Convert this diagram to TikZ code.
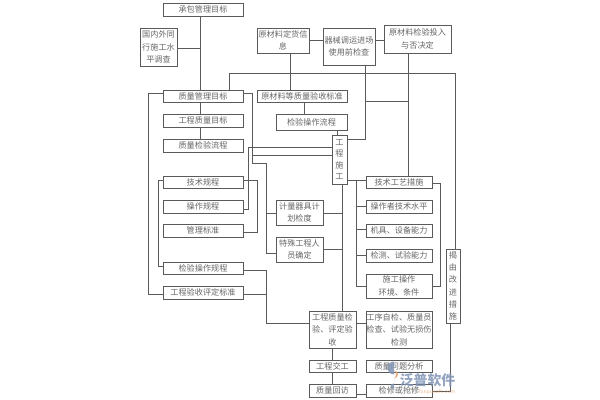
\documentclass[tikz,border=0pt]{standalone}
\usepackage{fontspec}
\newfontfamily\cjk{Noto Sans CJK SC}
\definecolor{ln}{HTML}{5A5A5A}
\definecolor{tx}{HTML}{666666}
\definecolor{wmblue}{HTML}{8093B5}
\definecolor{wmorange}{HTML}{E8A070}
\tikzset{
 x=0.75pt,y=-0.75pt,
 bx/.style={draw=ln,line width=0.75pt,fill=white,text=tx,inner sep=0pt,align=center,font=\cjk\fontsize{6.1}{9.4}\selectfont},
 lk/.style={draw=ln,line width=0.7pt},
 tall/.style={font=\cjk\fontsize{6.1}{8.6}\selectfont},
 taller/.style={font=\cjk\fontsize{6.1}{9.2}\selectfont},
}
\newcommand{\bxat}[7][]{\node[bx,minimum width=(#5-#3)*0.75pt,minimum height=(#6-#4)*0.75pt,text width=(#5-#3)*0.75pt,#1] (#2) at ({(#3+#5)/2},{(#4+#6)/2}) {#7};}
\begin{document}
\begin{tikzpicture}
\useasboundingbox (0,0) rectangle (600,400);
% boxes
\bxat{n1}{163}{3}{243}{16}{承包管理目标}
\bxat{n2}{140}{28}{177}{66}{国内外同\\行施工水\\平调查}
\bxat{n3}{257}{28}{309}{53}{原材料定货信\\息}
\bxat{n4}{323}{28}{375}{65}{器械调运进场\\使用前检查}
\bxat{n5}{384}{25}{451}{53}{原材料检验投入\\与否决定}
\bxat{n6}{163}{90}{243}{102}{质量管理目标}
\bxat{n7}{257}{90}{347}{102}{原材料等质量验收标准}
\bxat{n8}{163}{114}{243}{127}{工程质量目标}
\bxat{n9}{276}{114}{347}{130}{检验操作流程}
\bxat{n10}{163}{139}{243}{152}{质量检验流程}
\bxat{n11}{163}{176}{243}{188}{技术规程}
\bxat{n12}{163}{200}{243}{213}{操作规程}
\bxat{n13}{163}{224}{243}{237}{管理标准}
\bxat{n14}{163}{262}{243}{274}{检验操作规程}
\bxat{n15}{163}{286}{243}{299}{工程验收评定标准}
\bxat{n16}{276}{200}{323}{225}{计量器具计\\划检度}
\bxat{n17}{276}{237}{323}{262}{特殊工程人\\员确定}
\bxat[tall]{n18}{332}{135}{347}{184}{工\\程\\施\\工}
\bxat{n19}{366}{176}{432}{188}{技术工艺措施}
\bxat{n20}{366}{200}{432}{213}{操作者技术水平}
\bxat{n21}{366}{224}{432}{237}{机具、设备能力}
\bxat{n22}{366}{249}{432}{262}{检测、试验能力}
\bxat{n23}{366}{274}{432}{298}{施工操作\\环境、条件}
\bxat[taller]{n24}{446}{249}{460}{323}{揭\\由\\改\\进\\措\\施}
\bxat{n25}{309}{311}{356}{348}{工程质量检\\验、评定验\\收}
\bxat{n26}{366}{311}{432}{348}{工序自检、质量员\\检查、试验无损伤\\检测}
\bxat{n27}{309}{360}{356}{372}{工程交工}
\bxat{n28}{366}{360}{432}{372}{质量问题分析}
\bxat{n29}{309}{384}{356}{397}{质量回访}
\bxat{n30}{366}{384}{432}{397}{检修或抢修}
% junctions
\coordinate (a1) at (229,73);
\coordinate (a2) at (455.5,73);
\coordinate (b1) at (148,93);
\coordinate (b2) at (148,294);
\coordinate (c1) at (252.5,93);
\coordinate (c2) at (252.5,163);
\coordinate (c3) at (266.7,163);
\coordinate (c4) at (266.7,253);
\coordinate (c5) at (252.5,155);
\coordinate (d1) at (248,209);
\coordinate (d2) at (248,147);
\coordinate (e1) at (257.7,180);
\coordinate (e2) at (257.7,232.5);
\coordinate (f1) at (158,180);
\coordinate (f2) at (158,266);
\coordinate (g1) at (266.7,270);
\coordinate (g2) at (266.7,323);
\coordinate (g3) at (266.7,294);
\coordinate (g4) at (266.7,213);
\coordinate (h1) at (365.7,139);
\coordinate (h2) at (365.7,101.7);
\coordinate (h3) at (408,101.7);
\coordinate (i1) at (200.7,48);
\coordinate (j1) at (356.7,180);
\coordinate (j2) at (356.7,286);
\coordinate (j3) at (356.7,206);
\coordinate (j4) at (356.7,229);
\coordinate (j5) at (356.7,255);
\coordinate (k1) at (440.7,183);
\coordinate (k2) at (440.7,286);
\coordinate (l1) at (342,213);
\coordinate (l2) at (342,249);
\coordinate (m1) at (450,391);
% connectors
\draw[lk] (n1.south -| i1) -- (n6.north -| i1);
\draw[lk] (n6.south -| i1) -- (n8.north -| i1);
\draw[lk] (n8.south -| i1) -- (n10.north -| i1);
\draw[lk] (n2.east |- i1) -- (i1);
\draw[lk] (n3.south -| 290,0) -- (n7.north -| 290,0);
\draw[lk] (n3.east |- 0,40) -- (n4.west |- 0,40);
\draw[lk] (n4.east |- 0,40) -- (n5.west |- 0,40);
\draw[lk] (n6.north -| a1) -- (a1) -- (a2) -- (n24.north -| a2);
\draw[lk] (n4.south -| h1) -- (h1) -- (n18.east |- h1);
\draw[lk] (n5.south -| h3) -- (n19.north -| h3);
\draw[lk] (h2) -- (h3);
\draw[lk] (n7.south -| 304,0) -- (n9.north -| 304,0);
\draw[lk] (n9.south -| 337,0) -- (n18.north -| 337,0);
\draw[lk] (n6.west |- b1) -- (b1) -- (b2) -- (n15.west |- b2);
\draw[lk] (n6.east |- c1) -- (c1) -- (c2) -- (c3) -- (c4) -- (n17.west |- c4);
\draw[lk] (c5) -- (n18.west |- c5);
\draw[lk] (n12.east |- d1) -- (d1) -- (d2) -- (n18.west |- d2);
\draw[lk] (n11.east |- e1) -- (e1) -- (e2) -- (n13.east |- e2);
\draw[lk] (n11.west |- f1) -- (f1) -- (f2) -- (n14.west |- f2);
\draw[lk] (g4) -- (n16.west |- g4);
\draw[lk] (n16.east |- l1) -- (l1);
\draw[lk] (n17.east |- l2) -- (l2);
\draw[lk] (n18.south -| l1) -- (n25.north -| l1);
\draw[lk] (n18.east |- j1) -- (n19.west |- j1);
\draw[lk] (j1) -- (j2) -- (n23.west |- j2);
\draw[lk] (j3) -- (n20.west |- j3);
\draw[lk] (j4) -- (n21.west |- j4);
\draw[lk] (j5) -- (n22.west |- j5);
\draw[lk] (n19.east |- k1) -- (k1) -- (k2) -- (n23.east |- k2);
\draw[lk] (n14.east |- g1) -- (g1) -- (g2) -- (n25.west |- g2);
\draw[lk] (n15.east |- g3) -- (g3);
\draw[lk] (n25.east |- 0,323) -- (n26.west |- 0,323);
\draw[lk] (n25.south -| 332.3,0) -- (n27.north -| 332.3,0);
\draw[lk] (n27.south -| 332.3,0) -- (n29.north -| 332.3,0);
\draw[lk] (n29.east |- 0,394) -- (n30.west |- 0,394);
\draw[lk] (n24.south -| m1) -- (m1) -- (n30.east |- m1);
% watermark
\fill[wmblue,opacity=.85] (394,374.5) arc (90:270:6.5) -- (394,383.5) arc (270:90:3.5 and 2.5) -- cycle;
\fill[wmorange,opacity=.9] (394,378.5) arc (90:-90:4) arc (-90:90:2 and 4) -- cycle;
\node[inner sep=0pt,text=wmblue,opacity=.85,font=\cjk\bfseries\fontsize{10.4}{11}\selectfont] (wm) at (427.5,380) {泛普软件};
\node[inner sep=0pt,text=wmorange,opacity=.7,font=\sffamily\fontsize{4.4}{5}\selectfont] (wm2) at (437,391.5) {fanpusoft.com};
\end{tikzpicture}
\end{document}
